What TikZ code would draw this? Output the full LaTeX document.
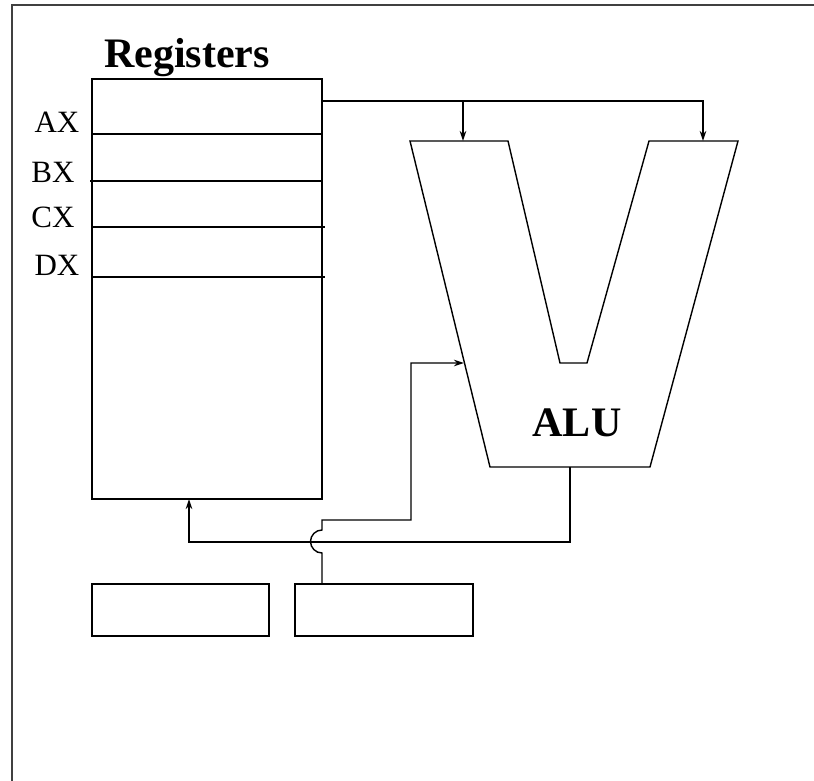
\documentclass[tikz,border=0pt]{standalone}
\usepackage{fontspec}
\setmainfont{Liberation Serif}
\usetikzlibrary{arrows.meta,positioning,calc}

\begin{document}
\begin{tikzpicture}[x=1pt,y=-1pt,line width=1.4pt,
 box/.style={draw,inner sep=0pt,outer sep=0pt},
 reglabel/.style={font=\fontsize{31}{33}\selectfont},
 title/.style={font=\fontsize{42}{44}\selectfont\bfseries},
 a/.style={-{Stealth[length=10pt,width=6.5pt]}}]
\useasboundingbox (0,0) rectangle (814,781);
% frame
\draw[line width=1.8pt,black!75] (12,781) -- (12,5) -- (814,5);

% register file
\node[box,minimum width=230pt,minimum height=420pt] (regs) at (207,289) {};
\node[title] (regtitle) at (187,58) {Registers};
\draw (92,134) -- (322,134);
\draw (90,181) -- (322,181);
\draw (92,227) -- (325,227);
\draw (92,277) -- (325,277);
\node[reglabel] (ax) at (57,122) {AX};
\node[reglabel] (bx) at (53,172) {BX};
\node[reglabel] (cx) at (53,217) {CX};
\node[reglabel] (dx) at (57,265) {DX};

% ALU
\coordinate (p1) at (410,141);
\coordinate (p2) at (508,141);
\coordinate (p3) at (560,363);
\coordinate (p4) at (587,363);
\coordinate (p5) at (649,141);
\coordinate (p6) at (738,141);
\coordinate (p7) at (650,467);
\coordinate (p8) at (490,467);
\draw (p1) -- (p2) -- (p3) -- (p4) -- (p5) -- (p6) -- (p7) -- (p8) -- cycle;
\node[title] (alu) at (577,423) {ALU};

% lower boxes
\node[box,minimum width=177pt,minimum height=52pt] (box1) at (180.5,610) {};
\node[box,minimum width=178pt,minimum height=52pt] (box2) at (384,610) {};

% connectors
\coordinate (regout) at (regs.east |- 0,101);
\coordinate (ina) at (463,141);
\coordinate (inb) at (703,141);
\coordinate (inc) at (464,363);
\coordinate (aluout) at (570,467);
\coordinate (busl) at (189,542);
\coordinate (regin) at (189,499);
\coordinate (box2out) at (322,584);
\draw[a] (regout) -| (ina);
\draw[a] (regout) -| (inb);
\draw[a] (aluout) |- (busl) -- (regin);
\draw[a] (box2out) -- (322,553) arc[start angle=90,end angle=270,radius=11.5]
 -- (322,520) -- (411,520) -- (411,363) -- (inc);
\end{tikzpicture}
\end{document}
